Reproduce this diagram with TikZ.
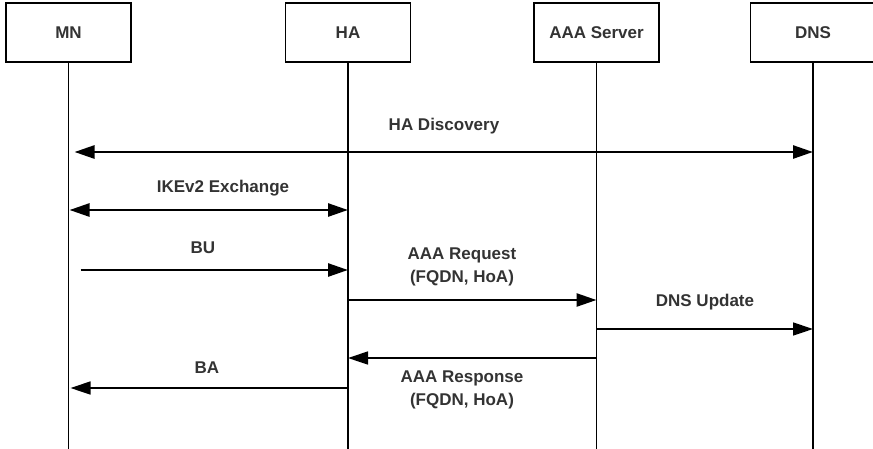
\documentclass[tikz,border=0pt]{standalone}
\usepackage{fontspec}
\setmainfont{Liberation Sans}
\usetikzlibrary{arrows.meta, positioning}

\begin{document}
\begin{tikzpicture}[x=1pt, y=-1pt, >={Triangle[length=20pt, width=13pt]},
  font=\fontsize{17}{23}\selectfont\bfseries,
  entity/.style={draw, line width=1.3pt, minimum width=125pt, minimum height=59pt, inner sep=0pt, text=black!80},
  life/.style={line width=1.3pt},
  heavy/.style={line width=2.6pt},
  light/.style={line width=1.4pt},
  lbl/.style={align=center, text=black!80, inner sep=0pt}]
\useasboundingbox (0,0) rectangle (873,448);

% --- entities ---
\node[entity] (mn)  at (68.5, 32.5) {MN};
\node[entity] (ha)  at (348, 32.5) {HA};
\node[entity] (aaa) at (596.5, 32.5) {AAA Server};
\node[entity] (dns) at (813, 32.5) {DNS};

% --- lifelines ---
\coordinate (bot) at (0, 449);
\foreach \e in {mn, ha, aaa, dns}
  \draw[life] (\e.south) -- (\e |- bot);

% message rows
\coordinate (r1) at (0, 152);
\coordinate (r2) at (0, 210);
\coordinate (r3) at (0, 270);
\coordinate (r4) at (0, 300);
\coordinate (r5) at (0, 329);
\coordinate (r6) at (0, 358);
\coordinate (r7) at (0, 388);

% --- messages ---
\draw[heavy, <->, shorten <=6pt] (mn |- r1) -- (dns |- r1);
\node[lbl] (disc) at (444, 126) {HA Discovery};

\draw[heavy, <->, shorten <=1pt] (mn |- r2) -- (ha |- r2);
\node[lbl] (ike) at (223, 188) {IKEv2 Exchange};

\draw[heavy, ->, shorten <=12pt] (mn |- r3) -- (ha |- r3);
\node[lbl] (bu) at (203, 248) {BU};

\draw[heavy, ->] (ha |- r4) -- (aaa |- r4);
\node[lbl] (req) at (462, 266.5) {AAA Request\\(FQDN, HoA)};

\draw[light, ->] (aaa |- r5) -- (dns |- r5);
\node[lbl] (upd) at (705, 302) {DNS Update};

\draw[light, ->] (aaa |- r6) -- (ha |- r6);
\node[lbl] (resp) at (462, 390) {AAA Response\\(FQDN, HoA)};

\draw[light, ->, shorten >=2pt] (ha |- r7) -- (mn |- r7);
\node[lbl] (ba) at (207, 368) {BA};

\end{tikzpicture}
\end{document}
